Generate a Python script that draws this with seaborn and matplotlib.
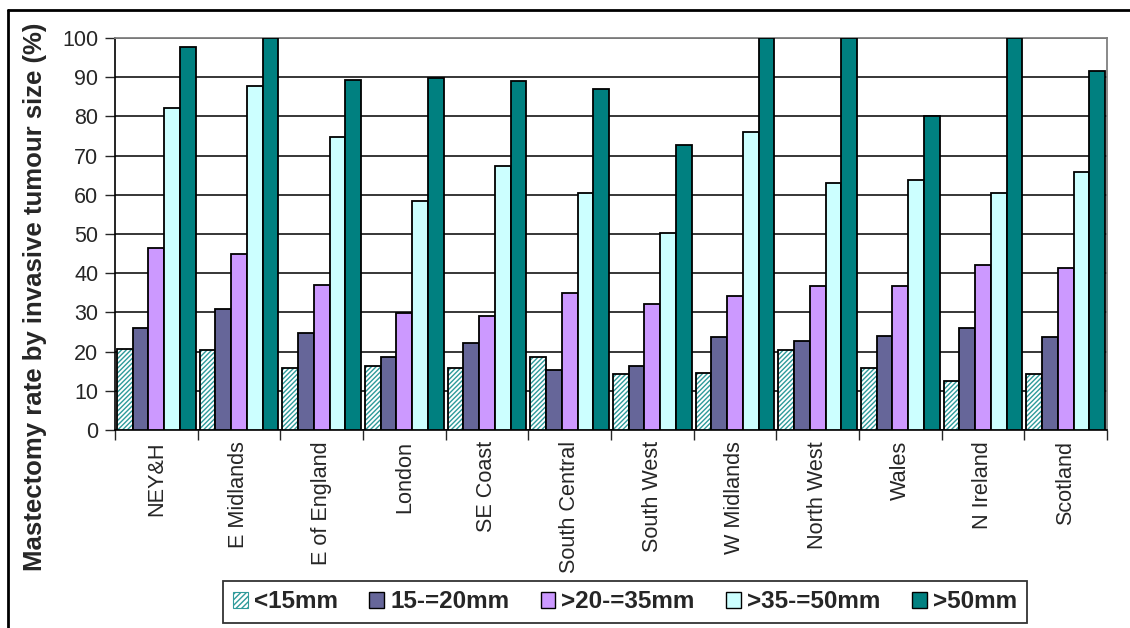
import numpy as np
import pandas as pd
import matplotlib
matplotlib.use("Agg")
import matplotlib.pyplot as plt
import matplotlib.colors as mcolors
from matplotlib.patches import Patch
from matplotlib.lines import Line2D
import seaborn as sns

regions = ["NEY&H", "E Midlands", "E of England", "London", "SE Coast", "South Central",
           "South West", "W Midlands", "North West", "Wales", "N Ireland", "Scotland"]
sizes = ["<15mm", "15-=20mm", ">20-=35mm", ">35-=50mm", ">50mm"]

lt15 = [20.7, 20.3, 15.8, 16.2, 15.8, 18.7, 14.2, 14.6, 20.3, 15.8, 12.5, 14.2]
s15_20 = [26.0, 30.9, 24.8, 18.7, 22.3, 15.4, 16.2, 23.6, 22.8, 24.0, 26.0, 23.6]
s20_35 = [46.5, 44.8, 37.1, 29.8, 29.0, 35.0, 32.2, 34.3, 36.7, 36.7, 42.0, 41.3]
s35_50 = [82.1, 87.8, 74.8, 58.4, 67.3, 60.4, 50.2, 75.9, 62.9, 63.7, 60.4, 65.7]
gt50 = [97.6, 100.0, 89.4, 89.8, 89.1, 87.0, 72.7, 100.0, 100.0, 80.1, 100.0, 91.5]

yticks = list(range(0, 101, 10))
colors = ["#FFFFFF", "#666699", "#CC99FF", "#CCFFFF", "#008080"]
hatch_color = "#2E9A9A"

series = [lt15, s15_20, s20_35, s35_50, gt50]
df = pd.DataFrame({
    "region": np.repeat([regions], len(sizes), axis=0).ravel(),
    "size": np.repeat(sizes, len(regions)),
    "value": np.concatenate(series),
})

sns.set_style("white")
plt.rcParams["font.family"] = ["Liberation Sans", "DejaVu Sans"]
plt.rcParams["hatch.linewidth"] = 1.0

fig = plt.figure(figsize=(11.3, 6.28), dpi=100)
ax = fig.add_axes([115 / 1130, 1 - 430 / 628, (1107 - 115) / 1130, (430 - 38) / 628])

sns.barplot(data=df, x="region", y="value", hue="size", hue_order=sizes, order=regions,
            palette=colors, saturation=1, width=0.955, gap=0, edgecolor="black",
            linewidth=1.3, ax=ax, legend=False, errorbar=None, zorder=3)

# hatch the <15mm bars
for p in ax.containers[0]:
    p.set_hatch("///////")
    p.set_edgecolor("black")
    p._hatch_color = mcolors.to_rgba(hatch_color)

ax.set_ylim(0, 100)
ax.set_xlim(-0.5, len(regions) - 0.5)
ax.set_yticks(yticks)
ax.set_yticklabels([str(t) for t in yticks], fontsize=15.5)
ax.yaxis.grid(True, color="black", linewidth=1.1, zorder=0)
ax.set_axisbelow(True)
ax.tick_params(axis="y", direction="out", length=7, width=1, left=True, pad=5)
ax.set_xticks(range(len(regions)))
ax.set_xticklabels(regions, rotation=90, fontsize=15.6, va="top")
ax.tick_params(axis="x", which="major", length=0, pad=8)
ax.set_xticks(np.arange(-0.5, len(regions)), minor=True)
ax.tick_params(axis="x", which="minor", length=7, width=1, bottom=True, direction="out")
ax.set_xlabel("")
ax.set_ylabel("")

for side in ["top", "right"]:
    ax.spines[side].set_color("#808080")
    ax.spines[side].set_linewidth(1.3)
for side in ["left", "bottom"]:
    ax.spines[side].set_color("black")
    ax.spines[side].set_linewidth(1.2)

fig.text(35 / 1130, 1 - 297 / 628, "Mastectomy rate by invasive tumour size (%)",
         rotation=90, ha="center", va="center", fontsize=18.5, fontweight="bold")

# legend
handles = []
for i, (lab, c) in enumerate(zip(sizes, colors)):
    if i == 0:
        h = Patch(facecolor="white", edgecolor=hatch_color, hatch="//////", linewidth=0.8, label=lab)
    else:
        h = Patch(facecolor=c, edgecolor="black", linewidth=1.0, label=lab)
    handles.append(h)
leg = fig.legend(handles=handles, loc="center", bbox_to_anchor=(625 / 1130, 1 - 602 / 628),
                 ncol=5, frameon=True, fancybox=False, shadow=False,
                 prop={"weight": "bold", "size": 17.5}, handlelength=0.6, handleheight=0.6,
                 handletextpad=0.25, columnspacing=1.3, borderpad=0.4, borderaxespad=0)
leg.get_frame().set_edgecolor("black")
leg.get_frame().set_linewidth(1.3)

# outer partial frame (left and top)
fig.add_artist(Line2D([8 / 1130, 8 / 1130], [0, 1 - 10 / 628], transform=fig.transFigure,
                      color="black", linewidth=2))
fig.add_artist(Line2D([8 / 1130, 1], [1 - 10 / 628, 1 - 10 / 628], transform=fig.transFigure,
                      color="black", linewidth=2))

fig.savefig("out.png", dpi=100)
